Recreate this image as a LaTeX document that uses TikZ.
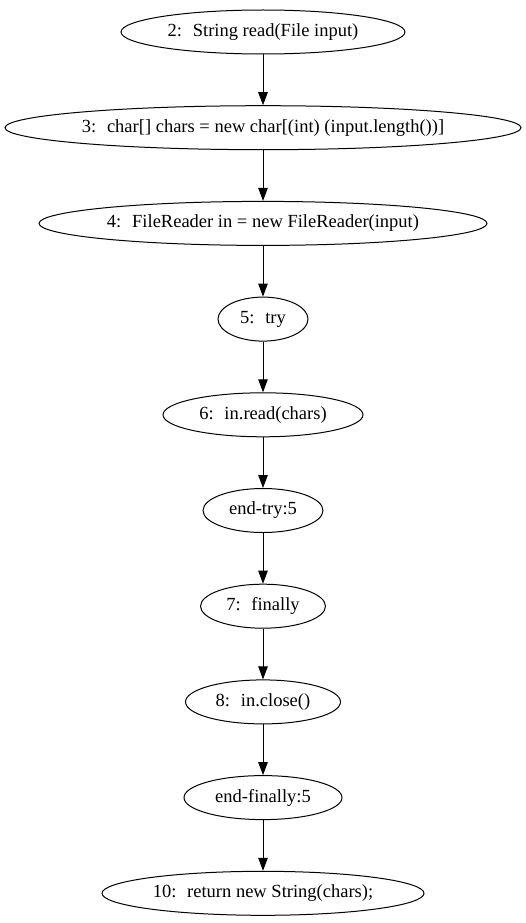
\documentclass[tikz,border=0pt]{standalone}
\usepackage{fontspec}
\setmainfont{Liberation Serif}
\usepackage{tikz}
\usetikzlibrary{shapes.geometric, arrows.meta, positioning}

\begin{document}
\begin{tikzpicture}[
    x=1pt, y=1pt,
    stmt/.style={draw, ellipse, line width=1pt, minimum height=44pt, inner sep=1pt, align=center, font=\fontsize{18.5}{20}\selectfont},
    arrow/.style={line width=1pt, -{Triangle[length=13pt, width=9.5pt]}},
]
\useasboundingbox (0, 0) rectangle (526, -923);

% === STATEMENTS ===
\node[stmt, minimum width=284pt] (stmt_read) at (263, -32) {2:~ String read(File input)};
\node[stmt, minimum width=516pt] (stmt_chars) at (263, -127.7) {3:~ char[] chars = new char[(int) (input.length())]};
\node[stmt, minimum width=448pt] (stmt_in) at (263, -223.4) {4:~ FileReader in = new FileReader(input)};
\node[stmt, minimum width=90pt] (stmt_try) at (263, -319.1) {5:~ try};
\node[stmt, minimum width=200pt] (stmt_readch) at (263, -414.8) {6:~ in.read(chars)};
\node[stmt, minimum width=120pt] (end_try) at (263, -510.5) {end-try:5};
\node[stmt, minimum width=125pt] (stmt_finally) at (263, -606.2) {7:~ finally};
\node[stmt, minimum width=155pt] (stmt_close) at (263, -701.9) {8:~ in.close()};
\node[stmt, minimum width=158pt] (end_finally) at (263, -797.6) {end-finally:5};
\node[stmt, minimum width=322pt] (stmt_return) at (263, -893.3) {10:~ return new String(chars);};

% Connections
\draw[arrow] (stmt_read) -- (stmt_chars);
\draw[arrow] (stmt_chars) -- (stmt_in);
\draw[arrow] (stmt_in) -- (stmt_try);
\draw[arrow] (stmt_try) -- (stmt_readch);
\draw[arrow] (stmt_readch) -- (end_try);
\draw[arrow] (end_try) -- (stmt_finally);
\draw[arrow] (stmt_finally) -- (stmt_close);
\draw[arrow] (stmt_close) -- (end_finally);
\draw[arrow] (end_finally) -- (stmt_return);

\end{tikzpicture}
\end{document}
